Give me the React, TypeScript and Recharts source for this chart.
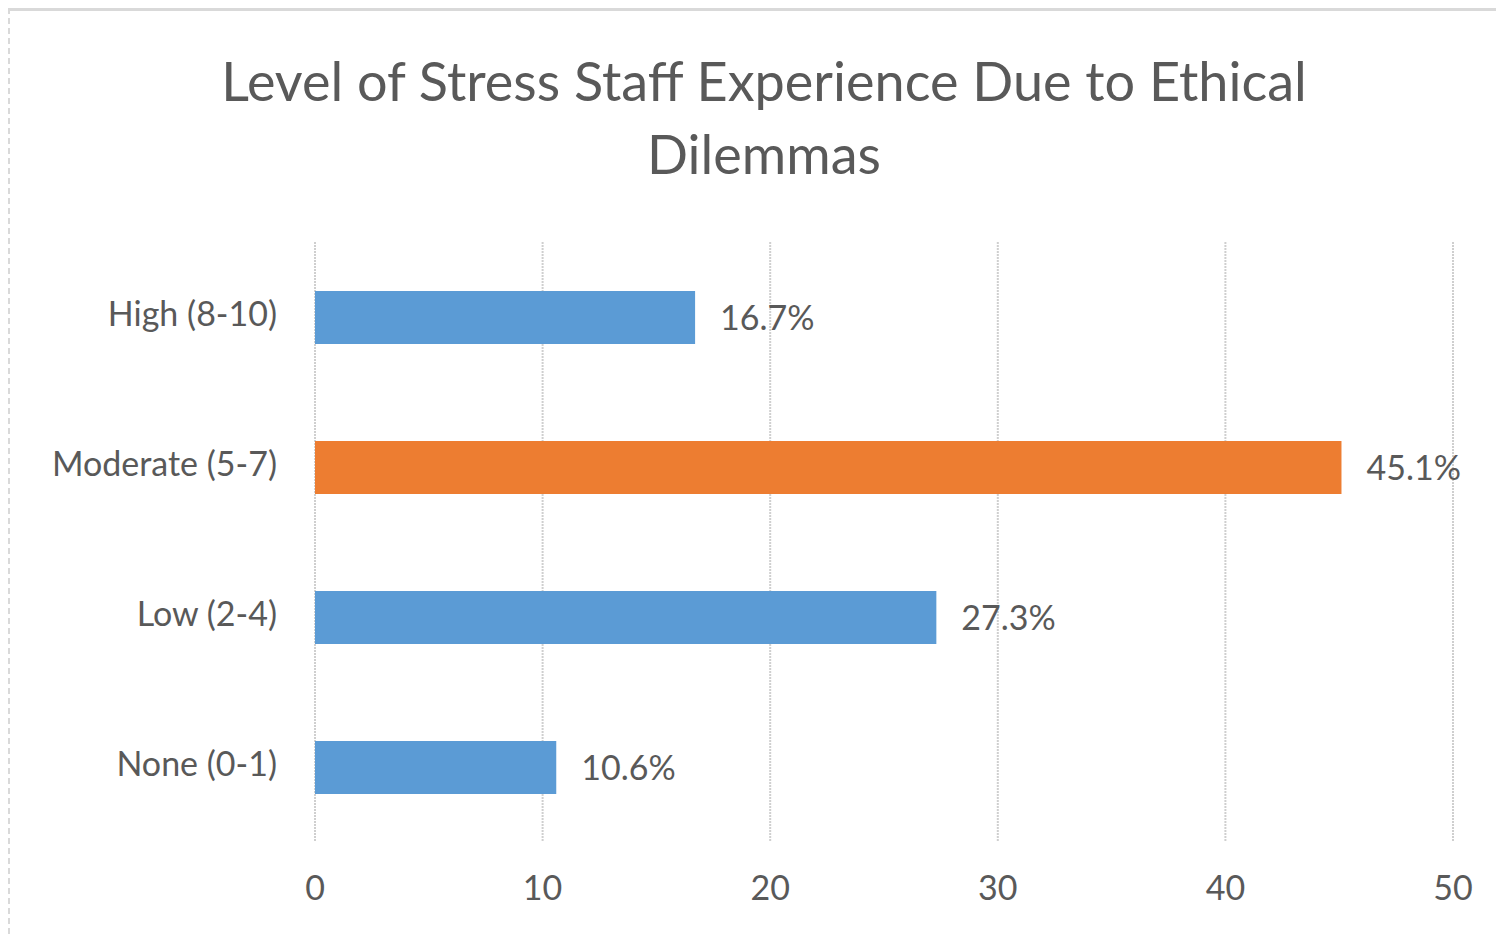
import React from "react";
import { BarChart, Bar, XAxis, YAxis, CartesianGrid, Cell, LabelList } from "recharts";

const categories = ["High (8-10)", "Moderate (5-7)", "Low (2-4)", "None (0-1)"];
const values = [16.7, 45.1, 27.3, 10.6];
const xTicks = [0, 10, 20, 30, 40, 50];
const titleLines = ["Level of Stress Staff Experience Due to Ethical", "Dilemmas"];

const data = categories.map((name, i) => ({ name, value: values[i] }));
const BLUE = "#5B9BD5";
const ORANGE = "#ED7D31";
const barColor = (i: number) => (i === 1 ? ORANGE : BLUE);

const FONT = "Lato, 'Open Sans', sans-serif";
const TEXT = "#595959";

export default function App() {
  return (
    <div
      style={{
        position: "relative",
        width: 1496,
        height: 926,
        boxSizing: "border-box",
        borderTop: "3px solid #d9d9d9",
        borderLeft: "2px dashed #d9d9d9",
        fontFamily: FONT,
        background: "#fff",
      }}
    >
      <div
        style={{
          position: "absolute",
          left: 0,
          top: 33,
          width: 1508,
          textAlign: "center",
          color: TEXT,
          fontSize: 54,
          lineHeight: "73px",
        }}
      >
        {titleLines.map((t) => (
          <div key={t}>{t}</div>
        ))}
      </div>
      <div style={{ position: "absolute", left: -2, top: -3 }}>
        <BarChart
          width={1496}
          height={926}
          data={data}
          layout="vertical"
          margin={{ top: 234, right: 51, bottom: 32, left: 0 }}
          barSize={53}
        >
          <CartesianGrid
            horizontal={false}
            vertical={true}
            stroke="#cfcfcf"
            strokeWidth={2}
            strokeDasharray="2 1"
          />
          <XAxis
            type="number"
            domain={[0, 50]}
            ticks={xTicks}
            axisLine={false}
            tickLine={false}
            tickSize={0}
            tickMargin={34}
            height={60}
            tick={{ fill: TEXT, fontSize: 34, fontFamily: FONT }}
            interval={0}
          />
          <YAxis
            type="category"
            dataKey="name"
            width={307}
            axisLine={false}
            tickLine={false}
            tickSize={0}
            tickMargin={38}
            tick={{ fill: TEXT, fontSize: 34, fontFamily: FONT, dy: -3 }}
            interval={0}
          />
          <Bar dataKey="value" isAnimationActive={false}>
            {data.map((d, i) => (
              <Cell key={d.name} fill={barColor(i)} />
            ))}
            <LabelList
              dataKey="value"
              position="right"
              offset={25}
              formatter={(v: number) => `${v}%`}
              style={{ fill: TEXT, fontSize: 34, fontFamily: FONT }}
            />
          </Bar>
        </BarChart>
      </div>
    </div>
  );
}
